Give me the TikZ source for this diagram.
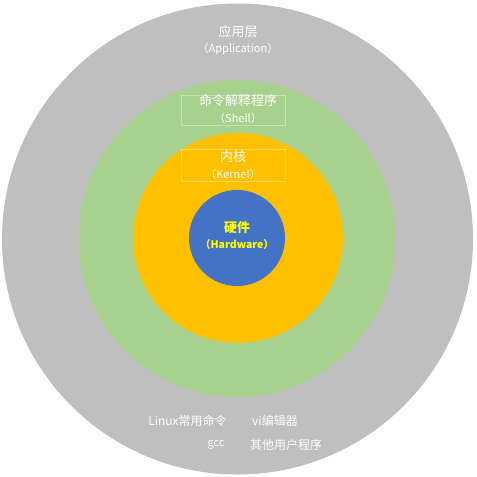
\documentclass[tikz,border=0pt]{standalone}
\usepackage{fontspec}
\newfontfamily\cjk{Noto Sans CJK SC}
\definecolor{ringgray}{HTML}{BFBFBF}
\definecolor{ringgreen}{HTML}{A9D18E}
\definecolor{ringorange}{HTML}{FFC000}
\definecolor{ringblue}{HTML}{4472C4}
\definecolor{hwyellow}{HTML}{FFFF00}
\begin{document}
\begin{tikzpicture}[x=1pt,y=-1pt,
  ring/.style={circle,draw=none,inner sep=0pt},
  lbl/.style={inner sep=0pt,text=white,font=\cjk\fontsize{13}{15}\selectfont},
  sub/.style={inner sep=0pt,text=white,font=\cjk\fontsize{11}{13}\selectfont},
  bot/.style={inner sep=0pt,text=white,font=\cjk\fontsize{12}{14}\selectfont},
  framebox/.style={draw=white,draw opacity=0.35,line width=0.8pt,fill=none}]
\useasboundingbox (0,0) rectangle (477,477);
\fill[white] (0,0) rectangle (477,477);
\node[ring,fill=ringgray,minimum size=471pt] (app) at (237.5,239) {};
\node[ring,fill=ringgreen,minimum size=317pt] (shell) at (237,238.5) {};
\node[ring,fill=ringorange,minimum size=210pt] (kernel) at (238,238) {};
\node[ring,fill=ringblue,minimum size=96pt] (hw) at (237,238) {};
% frames
\draw[framebox] (181,95) rectangle (285,125);
\draw[framebox] (181,149) rectangle (285,181);
% texts
\node[lbl] (appzh) at (238,32) {应用层};
\node[sub] (appen) at (238,49) {（Application）};
\node[lbl] (shzh) at (238,101) {命令解释程序};
\node[sub] (shen) at (238,118) {（Shell）};
\node[lbl] (knzh) at (233,157) {内核};
\node[sub] (knen) at (233,174) {（Kernel）};
\node[lbl,text=hwyellow,font=\cjk\bfseries\fontsize{13}{15}\selectfont] (hwzh) at (237,228) {硬件};
\node[sub,text=hwyellow,font=\cjk\bfseries\fontsize{10.5}{12}\selectfont] (hwen) at (237,245) {（Hardware）};
\node[bot] (linux) at (187.5,421) {Linux常用命令};
\node[bot] (vi) at (275,421) {vi编辑器};
\node[bot,font=\cjk\fontsize{11}{13}\selectfont] (gcc) at (216,445) {gcc};
\node[bot] (other) at (286,445) {其他用户程序};
\end{tikzpicture}
\end{document}
